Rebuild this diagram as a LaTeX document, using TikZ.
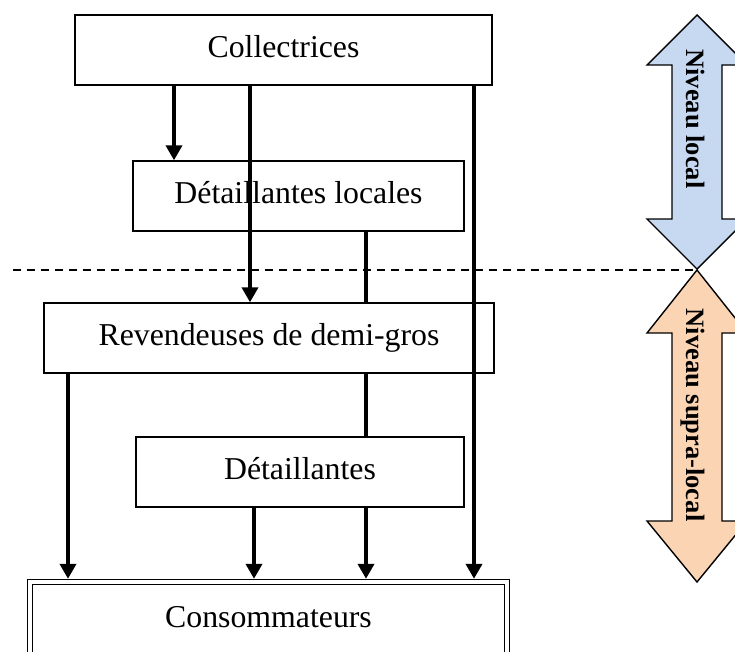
\documentclass[tikz,border=0pt]{standalone}
\usepackage{fontspec}
\setmainfont{Liberation Serif}
\usetikzlibrary{arrows.meta}
\pgfdeclarelayer{behind}
\pgfsetlayers{behind,main}
\definecolor{localblue}{HTML}{C6D9F1}
\definecolor{supraorange}{HTML}{FBD4B4}
\begin{document}
\begin{tikzpicture}[x=1pt,y=-1pt,
  actor/.style={draw, line width=1.4pt, fill=white, minimum height=70pt,
    inner sep=0pt, text height=22.3pt, text depth=8.3pt,
    font=\fontsize{31.8pt}{38pt}\selectfont},
  flow/.style={line width=4.4pt, -{Triangle[length=15pt,width=16pt]}},
  level/.style={draw, line width=1.4pt, line join=miter},
  leveltext/.style={rotate=-90, anchor=base, inner sep=0pt,
    font=\fontsize{26.5pt}{32pt}\selectfont\bfseries}]
\useasboundingbox (0,0) rectangle (735,651);
\clip (0,0) rectangle (735,651);

% actors of the distribution chain
\node[actor, minimum width=417pt] (coll) at (283.5,50) {Collectrices};
\node[actor, minimum width=331pt] (detloc) at (298.5,196) {Détaillantes locales};
\node[actor, minimum width=450pt] (rev) at (269,338) {Revendeuses de demi-gros};
\node[actor, minimum width=328pt] (det) at (300,472) {Détaillantes};
\node[actor, double, line width=1.5pt, double distance=3.4pt, outer sep=3.2pt,
      minimum width=477pt, minimum height=76pt] (cons) at (268.5,620) {Consommateurs};

% columns of the flows
\coordinate (c1) at (174,0);
\coordinate (c2) at (250,0);
\coordinate (c3) at (474,0);
\coordinate (c4) at (366,0);
\coordinate (c5) at (68,0);
\coordinate (c6) at (254,0);

% level arrows
\draw[level, fill=localblue] (697,15) -- (747,65) -- (722,65) -- (722,219)
  -- (747,219) -- (697,269) -- (647,219) -- (672,219) -- (672,65)
  -- (647,65) -- cycle;
\draw[level, fill=supraorange] (697,270) -- (747,333) -- (722,333) -- (722,521)
  -- (747,521) -- (697,582) -- (647,521) -- (672,521) -- (672,333)
  -- (647,333) -- cycle;
\coordinate (split) at (697,270);
\node[leveltext] (loc) at (686,119) {Niveau local};
\node[leveltext] (supra) at (686,415) {Niveau supra-local};

\begin{pgfonlayer}{behind}
  % boundary between the two levels
  \draw[line width=1.3pt, dash pattern=on 8pt off 6pt] (13,270) -- (split);
  % flow passing behind the intermediate boxes
  \draw[flow] (detloc.south -| c4) -- (cons.north -| c4);
\end{pgfonlayer}

% flows
\draw[flow] (coll.south -| c1) -- (detloc.north -| c1);
\draw[flow] (coll.south -| c2) -- (rev.north -| c2);
\draw[flow] (coll.south -| c3) -- (cons.north -| c3);
\draw[flow] (rev.south -| c5) -- (cons.north -| c5);
\draw[flow] (det.south -| c6) -- (cons.north -| c6);
\end{tikzpicture}
\end{document}
